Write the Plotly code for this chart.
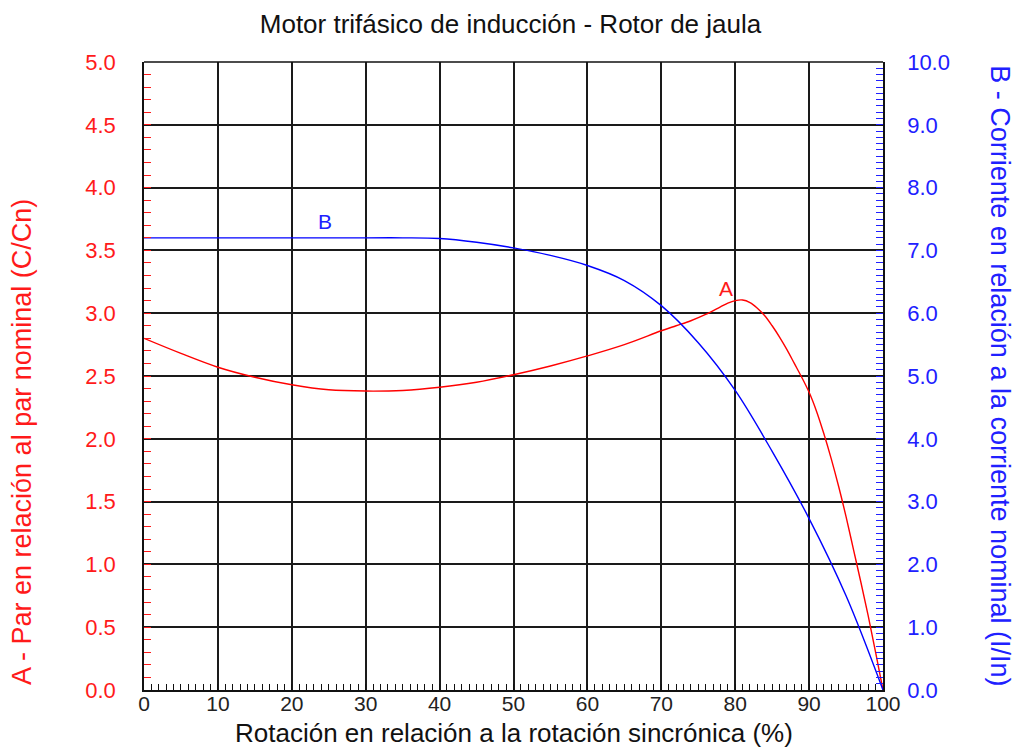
import plotly.graph_objects as go

# Rotation (% of synchronous speed)
rot_a = [0, 5, 10, 15, 20, 25, 30, 35, 40, 45, 50, 55, 60, 65, 70, 72, 74, 76, 78, 79, 80, 81, 82, 83, 84, 85, 86, 87, 88, 89, 90, 91, 92, 93, 94, 95, 96, 97, 98, 99, 100]
# A - torque relative to nominal (C/Cn)
torque_a = [2.80, 2.68, 2.57, 2.49, 2.43, 2.39, 2.38, 2.385, 2.41, 2.45, 2.51, 2.58, 2.66, 2.75, 2.86, 2.90, 2.94, 2.99, 3.05, 3.08, 3.10, 3.105, 3.085, 3.04, 2.98, 2.90, 2.81, 2.71, 2.60, 2.49, 2.37, 2.22, 2.04, 1.84, 1.62, 1.38, 1.12, 0.86, 0.59, 0.30, 0.0]

rot_b = [0, 10, 20, 30, 35, 40, 45, 50, 55, 60, 65, 70, 75, 80, 85, 90, 95, 100]
# B - current relative to nominal (I/In)
current_b = [7.2, 7.2, 7.2, 7.2, 7.2, 7.19, 7.13, 7.04, 6.92, 6.76, 6.52, 6.12, 5.53, 4.77, 3.80, 2.73, 1.50, 0.0]

x_ticks = list(range(0, 101, 10))

RED = "#ff1a1a"
BLUE = "#2020ff"
FONT = "Liberation Sans, Arial, sans-serif"
GRID = "#1a1a1a"

fig = go.Figure()
fig.add_trace(go.Scatter(x=rot_a, y=torque_a, mode="lines", line=dict(color="red", width=1.4, shape="spline", smoothing=1.0), yaxis="y", showlegend=False))
fig.add_trace(go.Scatter(x=rot_b, y=current_b, mode="lines", line=dict(color="blue", width=1.4, shape="spline", smoothing=1.0), yaxis="y2", showlegend=False))

fig.add_annotation(x=78.8, y=3.2, xref="x", yref="y", text="A", showarrow=False, font=dict(color=RED, size=21, family=FONT))
fig.add_annotation(x=24.5, y=7.46, xref="x", yref="y2", text="B", showarrow=False, font=dict(color=BLUE, size=21, family=FONT))

# axis titles placed as annotations for exact positioning
fig.add_annotation(x=-0.165, y=0.395, xref="paper", yref="paper", text="A - Par en relación al par nominal (C/Cn)",
                   textangle=-90, showarrow=False, xanchor="center", yanchor="middle", font=dict(size=27, color=RED, family=FONT))
fig.add_annotation(x=1.158, y=0.5, xref="paper", yref="paper", text="B - Corriente en relación a la corriente nominal (I/In)",
                   textangle=90, showarrow=False, xanchor="center", yanchor="middle", font=dict(size=27, color=BLUE, family=FONT))
fig.add_annotation(x=0.5, y=-0.068, xref="paper", yref="paper", text="Rotación en relación a la rotación sincrónica (%)",
                   showarrow=False, xanchor="center", yanchor="middle", font=dict(size=26, color="#111", family=FONT))

fig.update_layout(
    width=1021, height=749,
    margin=dict(l=144, r=138, t=62, b=59),
    paper_bgcolor="white", plot_bgcolor="white",
    font=dict(family=FONT, size=22, color="#222"),
    title=dict(text="Motor trifásico de inducción - Rotor de jaula", x=0.5, xanchor="center", y=1 - 24 / 749, yanchor="middle", font=dict(size=26, color="#111")),
    xaxis=dict(
        range=[0, 100], tickvals=x_ticks, showgrid=True, gridcolor=GRID, gridwidth=1.5, automargin=False,
        showline=True, linecolor="#111", linewidth=1.5, mirror=False, zeroline=False,
        ticks="inside", ticklen=6, tickcolor="#111", tickfont=dict(size=21, color="#222"),
        minor=dict(ticks="inside", dtick=1, ticklen=6, tickcolor="#111", showgrid=False),
        ticklabelstandoff=-6,
    ),
    yaxis=dict(
        range=[0, 5], dtick=0.5, tickformat=".1f", showgrid=True, gridcolor=GRID, gridwidth=1.5, automargin=False,
        showline=True, linecolor="#111", linewidth=1.5, zeroline=False,
        ticks="inside", ticklen=7, tickcolor=RED, tickfont=dict(size=22, color=RED),
        minor=dict(ticks="inside", dtick=0.1, ticklen=7, tickcolor=RED, showgrid=False),
        ticklabelstandoff=22,
    ),
    yaxis2=dict(
        range=[0, 10], dtick=1, tickformat=".1f", overlaying="y", side="right", showgrid=False, automargin=False,
        showline=True, linecolor="#111", linewidth=1.5, zeroline=False,
        ticks="inside", ticklen=7, tickcolor=BLUE, tickfont=dict(size=22, color=BLUE),
        minor=dict(ticks="inside", dtick=0.1, ticklen=7, tickcolor=BLUE, showgrid=False),
        ticklabelstandoff=18,
    ),
)
# top border
fig.add_shape(type="line", xref="paper", yref="paper", x0=0, x1=1, y0=1, y1=1, line=dict(color="#111", width=1.5))

fig.write_html("out.html")
